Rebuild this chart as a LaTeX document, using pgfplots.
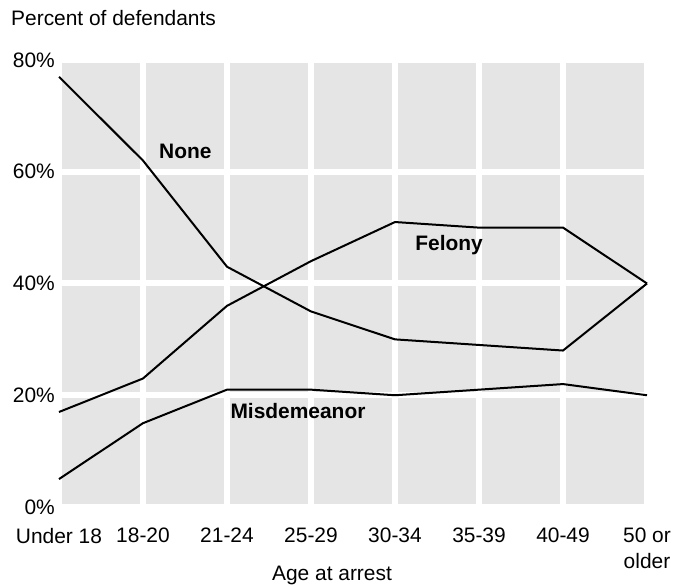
\documentclass[border=0pt]{standalone}
\usepackage{pgfplots}
\pgfplotsset{compat=1.18}
\usepackage{fontspec}
\setmainfont{Liberation Sans}
\definecolor{panel}{RGB}{229,229,229}

\begin{document}
\begin{tikzpicture}
\begin{axis}[
    name=ax,
    scale only axis,
    width=588bp, height=447bp,
    xmin=0, xmax=7, ymin=0, ymax=80,
    xtick={0,...,7},
    xticklabels={Under 18,18-20,21-24,25-29,30-34,35-39,40-49,{50 or\\older}},
    ytick={0,20,40,60,80},
    yticklabel={\pgfmathprintnumber{\tick}\%},
    /pgf/number format/assume math mode=true,
    major tick length=0pt,
    axis line style={draw=none},
    axis background/.style={fill=panel},
    grid=major,
    major grid style={white, line width=6bp},
    tick label style={font=\fontsize{21}{26}\selectfont},
    xticklabel style={inner sep=0pt, yshift=-21bp, align=center},
    yticklabel style={inner sep=0pt, xshift=-4bp},
    clip=false,
]
% None
\addplot[black, line width=2bp] coordinates {
    (0,77) (1,62) (2,43) (3,35) (4,30) (5,29) (6,28) (7,40)
};
% Felony
\addplot[black, line width=2bp] coordinates {
    (0,17) (1,23) (2,36) (3,44) (4,51) (5,50) (6,50) (7,40)
};
% Misdemeanor
\addplot[black, line width=2bp] coordinates {
    (0,5) (1,15) (2,21) (3,21) (4,20) (5,21) (6,22) (7,20)
};
\node[anchor=base west, inner sep=0pt, font=\fontsize{21}{24}\selectfont\bfseries] at (axis cs:1.19,62.4) {None};
\node[anchor=base west, inner sep=0pt, font=\fontsize{21}{24}\selectfont\bfseries] at (axis cs:4.24,45.85) {Felony};
\node[anchor=base west, inner sep=0pt, font=\fontsize{21}{24}\selectfont\bfseries] at (axis cs:2.04,15.9) {Misdemeanor};
\end{axis}
\node[anchor=west, inner sep=0pt, font=\fontsize{21}{24}\selectfont] at ([xshift=-48bp, yshift=41.5bp]ax.north west) {Percent of defendants};
\node[anchor=base, inner sep=0pt, font=\fontsize{21}{24}\selectfont] at ([xshift=273bp, yshift=-74bp]ax.south west) {Age at arrest};
\path ([xshift=-59bp, yshift=-80bp]ax.south west) rectangle ([xshift=27bp, yshift=60bp]ax.north east);
\end{tikzpicture}
\end{document}
